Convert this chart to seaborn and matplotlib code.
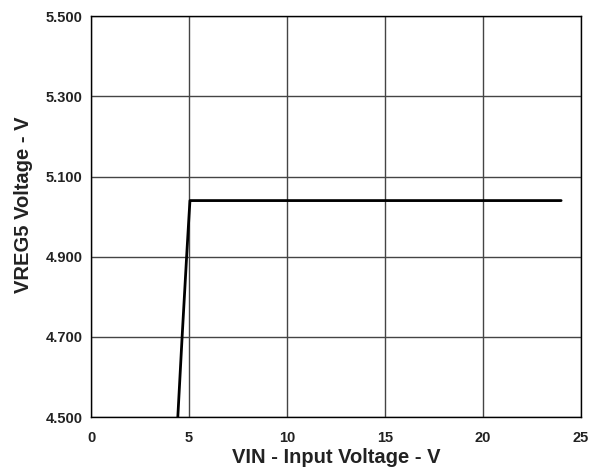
import pandas as pd
import matplotlib
matplotlib.use("Agg")
import matplotlib.pyplot as plt
import seaborn as sns

# Values
vin = [4.43, 4.65, 4.88, 5.0, 5.05, 10.0, 15.0, 20.0, 24.0]
vreg5 = [4.50, 4.70, 4.90, 5.00, 5.04, 5.04, 5.04, 5.04, 5.04]

x_ticks = [0, 5, 10, 15, 20, 25]
y_ticks = [4.5, 4.7, 4.9, 5.1, 5.3, 5.5]

df = pd.DataFrame({"vin": vin, "vreg5": vreg5})

sns.set_style("white")
plt.rcParams["font.family"] = ["Liberation Sans", "DejaVu Sans"]
plt.rcParams["font.weight"] = "bold"

fig = plt.figure(figsize=(5.95, 4.74), dpi=100)
ax = fig.add_axes([0.153, 0.120, 0.823, 0.846])

sns.lineplot(data=df, x="vin", y="vreg5", ax=ax, color="black", linewidth=2.0,
             sort=False, estimator=None)

ax.set_xlim(0, 25)
ax.set_ylim(4.5, 5.5)
ax.set_xticks(x_ticks)
ax.set_yticks(y_ticks)
ax.set_xticklabels([str(t) for t in x_ticks], fontsize=10.5, fontweight="bold",
                   color="#222222")
ax.set_yticklabels([f"{t:.3f}" for t in y_ticks], fontsize=10.5, fontweight="bold",
                   color="#222222")
ax.tick_params(axis="y", length=0, pad=6)
ax.tick_params(axis="x", length=0, pad=10)
ax.grid(True, color="#444444", linewidth=1.0)

for s in ax.spines.values():
    s.set_color("black")
    s.set_linewidth(1.0)

ax.set_xlabel("VIN - Input Voltage - V", fontsize=14.5, fontweight="bold",
              color="#222222", labelpad=2)
ax.set_ylabel("VREG5 Voltage - V", fontsize=14.5, fontweight="bold",
              color="#222222", labelpad=8)
ax.yaxis.set_label_coords(-0.118, 0.53)

fig.savefig("out.png", dpi=100)
